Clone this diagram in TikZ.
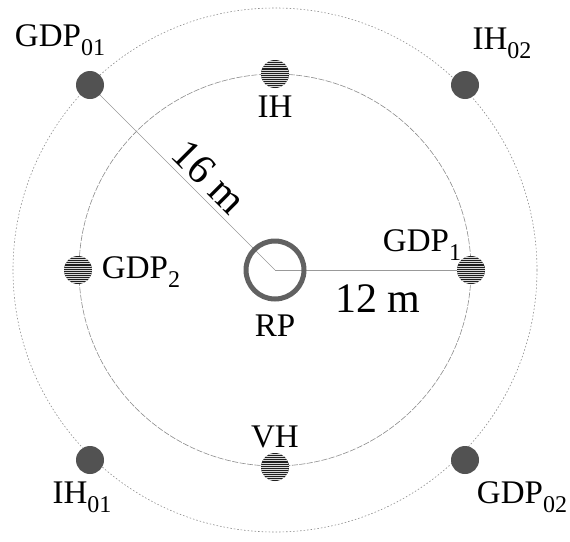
\documentclass[tikz,border=0pt]{standalone}
\usepackage{fontspec}
\setmainfont{Liberation Serif}
\newcommand{\mysub}[1]{\raisebox{-0.28em}{\fontsize{24}{24}\selectfont #1}}
\begin{document}
\begin{tikzpicture}[x=1pt,y=-1pt,
  lbl/.style={font=\fontsize{33}{36}\selectfont, inner sep=0pt},
  big/.style={font=\fontsize{42}{46}\selectfont, inner sep=0pt},
  ring/.style={draw=black!45, line width=0.6pt},
  graydot/.style={circle, fill=black!68, minimum size=28pt, inner sep=0pt},
  hatchdot/.style={circle, fill=black!88, minimum size=28pt, inner sep=0pt,
    path picture={\foreach \k in {-6,...,6}{\draw[white!85!black, line width=0.55pt]
      ([yshift=\k*2.1pt]path picture bounding box.west) -- ([yshift=\k*2.1pt]path picture bounding box.east);}}},
  link/.style={draw=black!40, line width=0.6pt}]
\useasboundingbox (0,0) rectangle (570,541);
\coordinate (c) at (275,270);
\draw[ring, dash pattern=on 1.5pt off 2pt] (c) circle[radius=262];
\draw[ring, dash pattern=on 6pt off 1.5pt] (c) circle[radius=196];
\node[graydot] (gdp01) at (90,85) {};
\node[graydot] (ih02) at (465,85) {};
\node[graydot] (ih01) at (90,460) {};
\node[graydot] (gdp02) at (465,460) {};
\node[hatchdot] (ih) at (275,74) {};
\node[hatchdot] (vh) at (275,467) {};
\node[hatchdot] (gdp2) at (78,270) {};
\node[hatchdot] (gdp1) at (471,270) {};
\draw[link] (c) -- (gdp01);
\draw[link] (c) -- (gdp1);
\node[circle, draw=black!62, line width=5pt, minimum size=58pt, inner sep=0pt] (rp) at (c) {};
\node[lbl] (tgdp01) at (60,40) {GDP\mysub{01}};
\node[lbl] (tih02) at (502,43) {IH\mysub{02}};
\node[lbl] (tih) at (275,107) {IH};
\node[lbl] (tgdp2) at (141,272) {GDP\mysub{2}};
\node[lbl] (tgdp1) at (422,245) {GDP\mysub{1}};
\node[lbl] (trp) at (275,326) {RP};
\node[big] (t12) at (378,299) {12 m};
\node[big, rotate=-45] (t16) at (209,177) {16 m};
\node[lbl] (tvh) at (275,437) {VH};
\node[lbl] (tih01) at (82,497) {IH\mysub{01}};
\node[lbl] (tgdp02) at (522,497) {GDP\mysub{02}};
\end{tikzpicture}
\end{document}
